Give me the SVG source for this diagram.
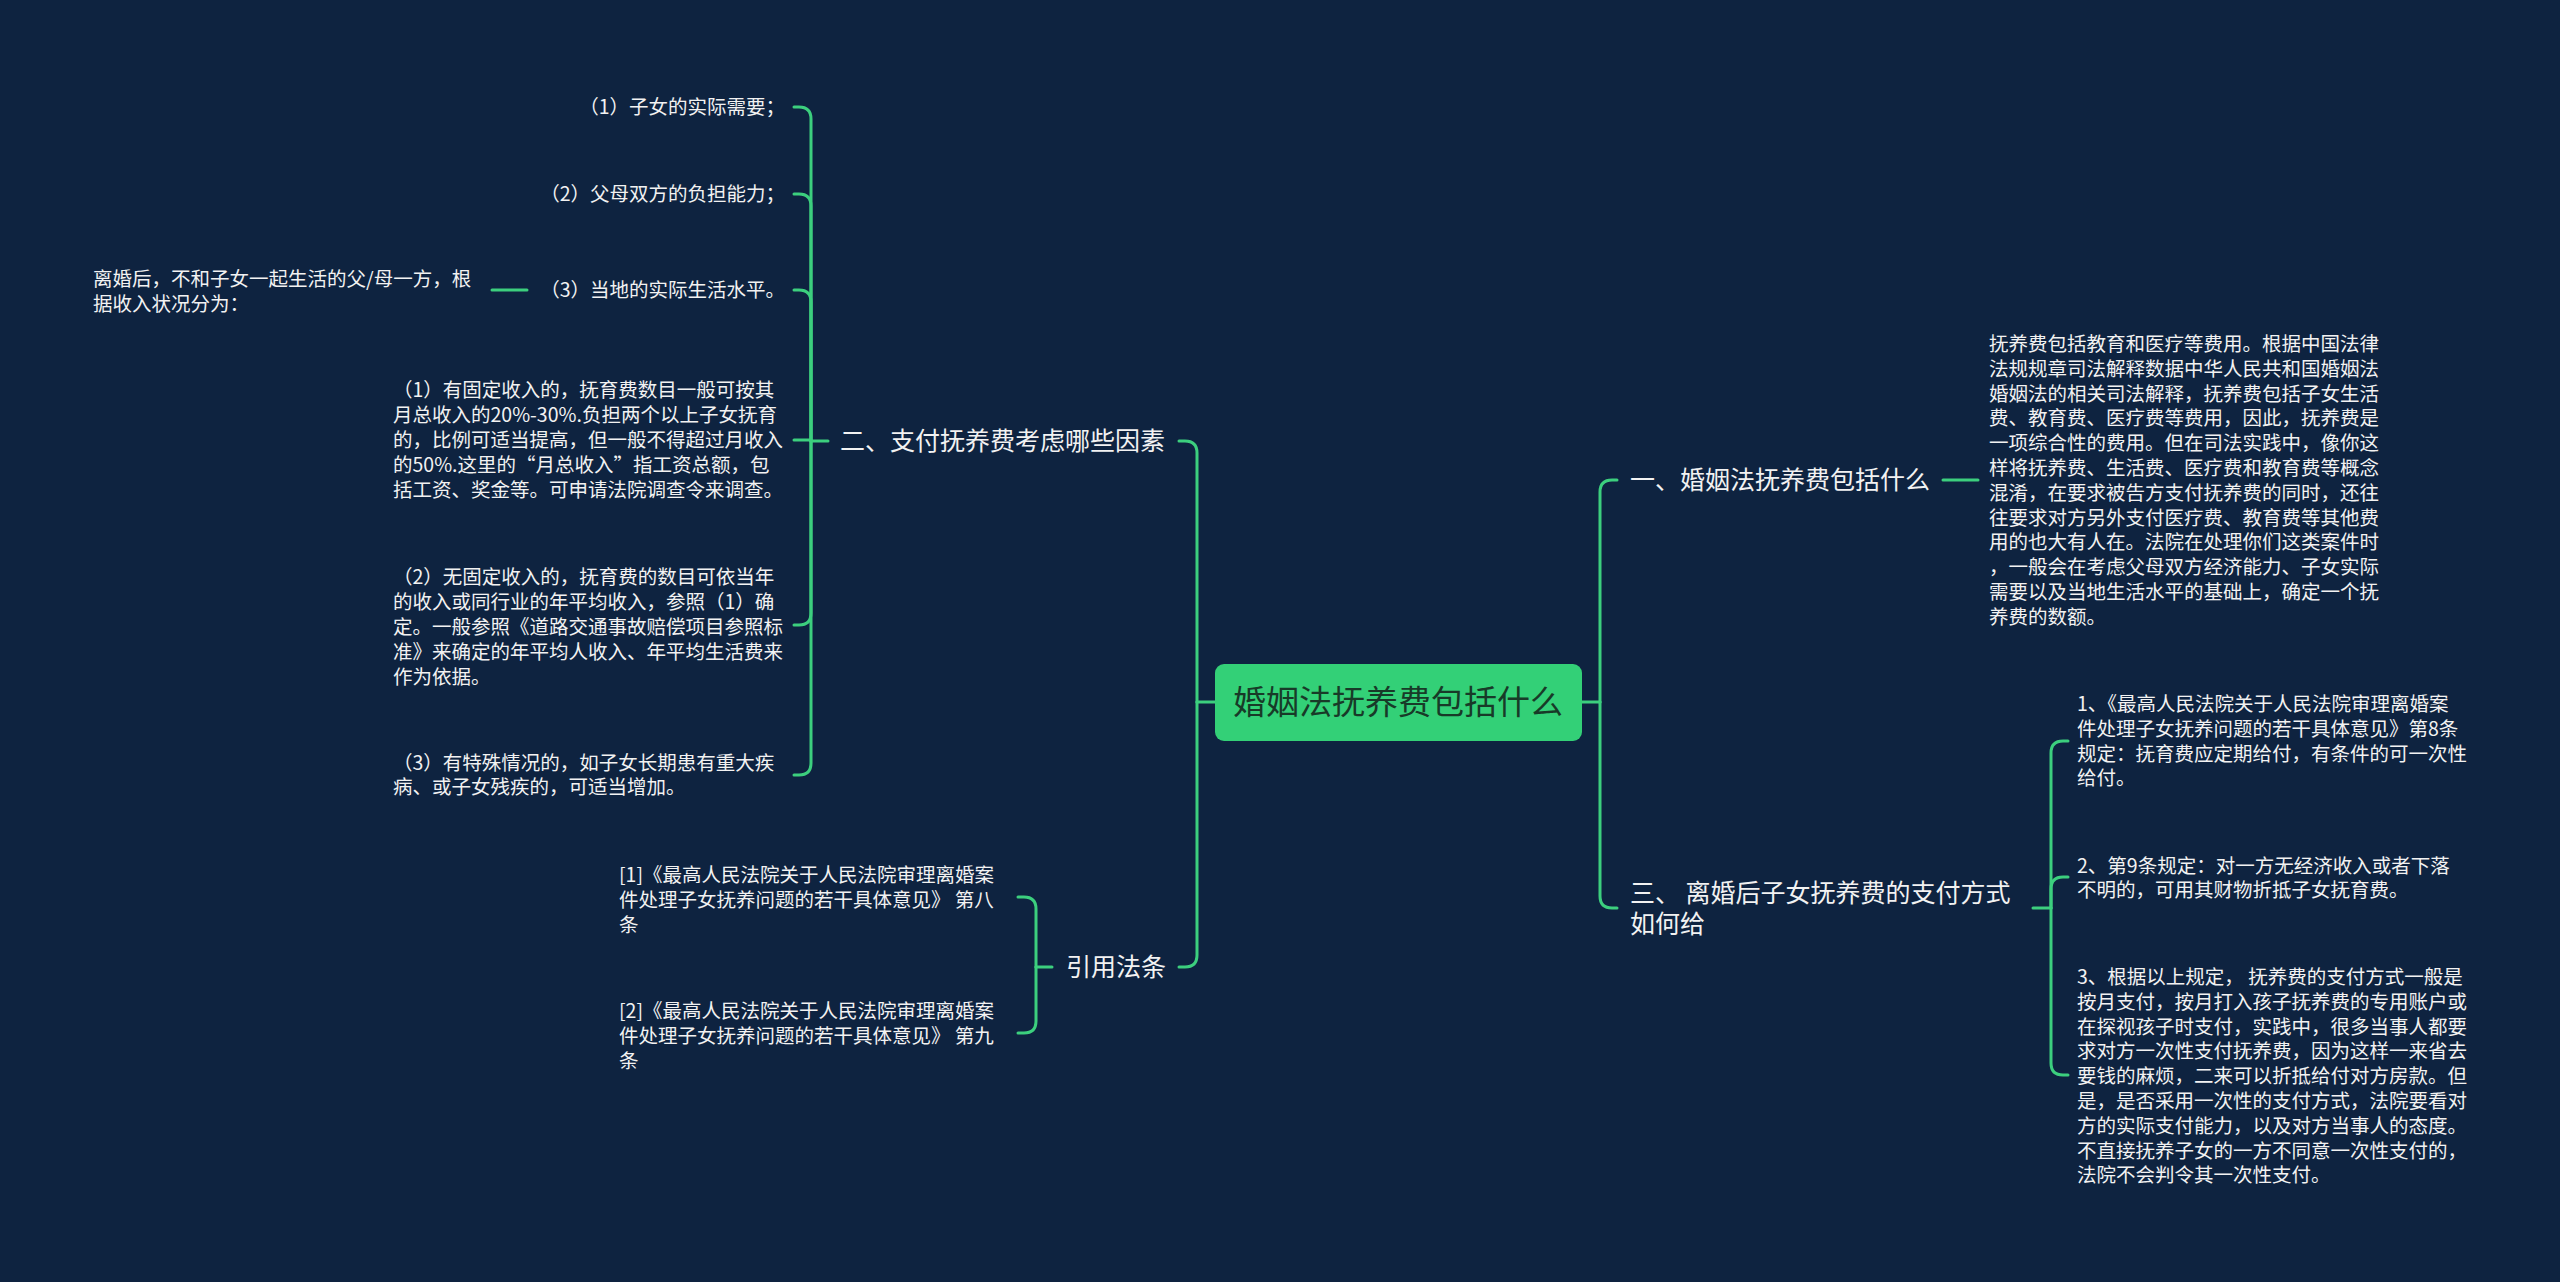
<svg xmlns="http://www.w3.org/2000/svg" width="2560" height="1282" viewBox="0 0 2560 1282">
<style>
text{font-family:"Noto Sans CJK SC","Noto Sans",sans-serif;fill:#f2f2f2}
.s{font-size:19.5px}
.b{font-size:25px}
.c{font-size:33px;fill:#183a28}
.ln{fill:none;stroke:#3ccf7e;stroke-width:3;stroke-linecap:round;stroke-linejoin:round}
</style>
<rect width="2560" height="1282" fill="#0e2340"/>
<g id="connectors" class="ln">
<path d="M1215,702 H1197"/>
<path d="M1197,702 V453 Q1197,441 1185,441 H1179"/>
<path d="M1197,702 V955 Q1197,967 1185,967 H1179"/>
<path d="M1582,702 H1600"/>
<path d="M1600,702 V492 Q1600,480 1612,480 H1617"/>
<path d="M1600,702 V896 Q1600,908 1612,908 H1617"/>
<path d="M1943,480 H1978"/>
<path d="M2033,908 H2051"/>
<path d="M2051,908 V753 Q2051,741 2063,741 H2068"/>
<path d="M2051,908 V889 Q2051,877 2063,877 H2068"/>
<path d="M2051,908 V1063 Q2051,1075 2063,1075 H2068"/>
<path d="M828,441 H811"/>
<path d="M811,441 V119 Q811,107 799,107 H794"/>
<path d="M811,441 V206 Q811,194 799,194 H794"/>
<path d="M811,441 V302 Q811,290 799,290 H794"/>
<path d="M811,441 V440 H794"/>
<path d="M811,441 V613 Q811,625 799,625 H794"/>
<path d="M811,441 V763 Q811,775 799,775 H794"/>
<path d="M527,290 H492"/>
<path d="M1052,967 H1036"/>
<path d="M1036,967 V909 Q1036,897 1024,897 H1018"/>
<path d="M1036,967 V1021 Q1036,1033 1024,1033 H1018"/>
</g>
<g id="root">
<rect x="1215" y="664" width="367" height="77" rx="9" fill="#33d077"/>
<text class="c" x="1398" y="714" text-anchor="middle">婚姻法抚养费包括什么</text>
</g>
<g id="n1">
<text class="b" x="1630" y="489">一、婚姻法抚养费包括什么</text>
</g>
<g id="n1a">
<text class="s">
<tspan x="1989" y="351">抚养费包括教育和医疗等费用。根据中国法律</tspan>
<tspan x="1989" y="375.8">法规规章司法解释数据中华人民共和国婚姻法</tspan>
<tspan x="1989" y="400.6">婚姻法的相关司法解释，抚养费包括子女生活</tspan>
<tspan x="1989" y="425.4">费、教育费、医疗费等费用，因此，抚养费是</tspan>
<tspan x="1989" y="450.2">一项综合性的费用。但在司法实践中，像你这</tspan>
<tspan x="1989" y="475">样将抚养费、生活费、医疗费和教育费等概念</tspan>
<tspan x="1989" y="499.8">混淆，在要求被告方支付抚养费的同时，还往</tspan>
<tspan x="1989" y="524.6">往要求对方另外支付医疗费、教育费等其他费</tspan>
<tspan x="1989" y="549.4">用的也大有人在。法院在处理你们这类案件时</tspan>
<tspan x="1989" y="574.2">，一般会在考虑父母双方经济能力、子女实际</tspan>
<tspan x="1989" y="599">需要以及当地生活水平的基础上，确定一个抚</tspan>
<tspan x="1989" y="623.8">养费的数额。</tspan>
</text>
</g>
<g id="n3">
<text class="b" xml:space="preserve"><tspan x="1630" y="902">三、 离婚后子女抚养费的支付方式</tspan><tspan x="1630" y="933">如何给</tspan></text>
</g>
<g id="n3a">
<text class="s">
<tspan x="2077" y="711">1、《最高人民法院关于人民法院审理离婚案</tspan>
<tspan x="2077" y="735.8">件处理子女抚养问题的若干具体意见》第8条</tspan>
<tspan x="2077" y="760.6">规定：抚育费应定期给付，有条件的可一次性</tspan>
<tspan x="2077" y="785.4">给付。</tspan>
</text>
</g>
<g id="n3b">
<text class="s">
<tspan x="2077" y="872.6">2、第9条规定：对一方无经济收入或者下落</tspan>
<tspan x="2077" y="897.4">不明的，可用其财物折抵子女抚育费。</tspan>
</text>
</g>
<g id="n3c">
<text class="s" xml:space="preserve"><tspan x="2077" y="984">3、根据以上规定， 抚养费的支付方式一般是</tspan><tspan x="2077" y="1008.8">按月支付，按月打入孩子抚养费的专用账户或</tspan><tspan x="2077" y="1033.6">在探视孩子时支付，实践中，很多当事人都要</tspan><tspan x="2077" y="1058.4">求对方一次性支付抚养费，因为这样一来省去</tspan><tspan x="2077" y="1083.2">要钱的麻烦，二来可以折抵给付对方房款。但</tspan><tspan x="2077" y="1108">是，是否采用一次性的支付方式，法院要看对</tspan><tspan x="2077" y="1132.8">方的实际支付能力，以及对方当事人的态度。</tspan><tspan x="2077" y="1157.6">不直接抚养子女的一方不同意一次性支付的，</tspan><tspan x="2077" y="1182.4">法院不会判令其一次性支付。</tspan></text>
</g>
<g id="n2">
<text class="b" x="840" y="450">二、支付抚养费考虑哪些因素</text>
</g>
<g id="n2a">
<text class="s" x="785" y="114" text-anchor="end">（1）子女的实际需要；</text>
</g>
<g id="n2b">
<text class="s" x="785" y="201" text-anchor="end">（2）父母双方的负担能力；</text>
</g>
<g id="n2c">
<text class="s" x="785" y="297" text-anchor="end">（3）当地的实际生活水平。</text>
</g>
<g id="n2c1">
<text class="s"><tspan x="93" y="286">离婚后，不和子女一起生活的父/母一方，根</tspan><tspan x="93" y="311">据收入状况分为：</tspan></text>
</g>
<g id="n2d">
<text class="s">
<tspan x="393" y="397.4">（1）有固定收入的，抚育费数目一般可按其</tspan>
<tspan x="393" y="422.2">月总收入的20%-30%.负担两个以上子女抚育</tspan>
<tspan x="393" y="447">的，比例可适当提高，但一般不得超过月收入</tspan>
<tspan x="393" y="471.8">的50%.这里的“月总收入”指工资总额，包</tspan>
<tspan x="393" y="496.6">括工资、奖金等。可申请法院调查令来调查。</tspan>
</text>
</g>
<g id="n2e">
<text class="s">
<tspan x="393" y="584.4">（2）无固定收入的，抚育费的数目可依当年</tspan>
<tspan x="393" y="609.2">的收入或同行业的年平均收入，参照（1）确</tspan>
<tspan x="393" y="634">定。一般参照《道路交通事故赔偿项目参照标</tspan>
<tspan x="393" y="658.8">准》来确定的年平均人收入、年平均生活费来</tspan>
<tspan x="393" y="683.6">作为依据。</tspan>
</text>
</g>
<g id="n2f">
<text class="s">
<tspan x="393" y="769.6">（3）有特殊情况的，如子女长期患有重大疾</tspan>
<tspan x="393" y="794.4">病、或子女残疾的，可适当增加。</tspan>
</text>
</g>
<g id="n4">
<text class="b" x="1066" y="976">引用法条</text>
</g>
<g id="n4a">
<text class="s" xml:space="preserve"><tspan x="619" y="882.2">[1]《最高人民法院关于人民法院审理离婚案</tspan><tspan x="619" y="907">件处理子女抚养问题的若干具体意见》 第八</tspan><tspan x="619" y="931.8">条</tspan></text>
</g>
<g id="n4b">
<text class="s" xml:space="preserve"><tspan x="619" y="1018.2">[2]《最高人民法院关于人民法院审理离婚案</tspan><tspan x="619" y="1043">件处理子女抚养问题的若干具体意见》 第九</tspan><tspan x="619" y="1067.8">条</tspan></text>
</g>
</svg>
